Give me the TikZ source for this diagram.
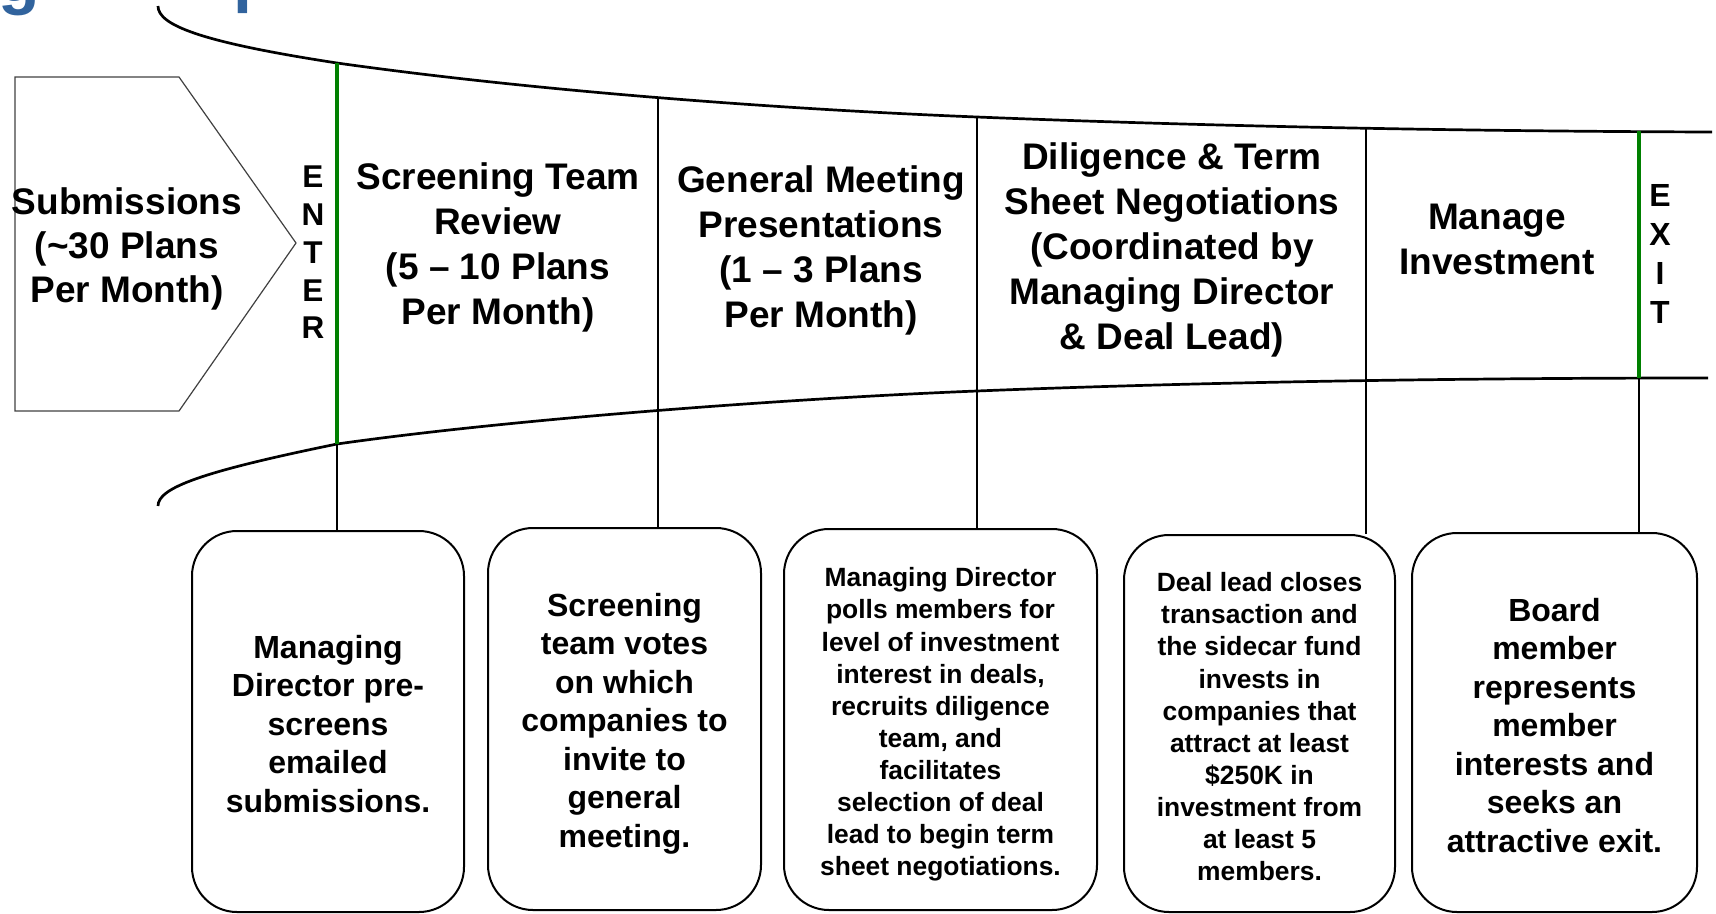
\documentclass[tikz,border=0pt]{standalone}
\usepackage{fontspec}
\setmainfont{Liberation Sans}
\usetikzlibrary{calc}
\definecolor{gategreen}{RGB}{0,128,0}
\definecolor{titleblue}{RGB}{49,99,157}
\tikzset{
  tunnel/.style={line width=2.7pt},
  gate/.style={draw=gategreen, line width=4.5pt},
  drop/.style={line width=2pt},
  notebox/.style={draw, line width=2pt, rounded corners=45pt, inner sep=0pt},
  notebig/.style={align=center, inner sep=0pt, font=\fontsize{32}{38.5}\selectfont\bfseries},
  notesmall/.style={notebig, font=\fontsize{26.4}{32.1}\selectfont\bfseries},
  stagehead/.style={align=center, inner sep=0pt, font=\fontsize{37}{45}\selectfont\bfseries},
  gateword/.style={align=center, inner sep=0pt, font=\fontsize{32}{39}\selectfont\bfseries},
  cuttitle/.style={anchor=base west, inner sep=0pt, text=titleblue, font=\fontsize{68}{68}\selectfont\bfseries}
}

\begin{document}
\begin{tikzpicture}[x=1pt,y=-1pt]
    \useasboundingbox (0,0) rectangle (1716,913);

    % title, cut off by the top edge
    \node[cuttitle] (ttl1) at (-2,1) {g};
    \node[cuttitle] (ttl2) at (233,-1) {p};

    % points on the tunnel
    \coordinate (entT) at (337,63);
    \coordinate (top2) at (658,98.5);
    \coordinate (top3) at (977,117);
    \coordinate (top4) at (1366,128.3);
    \coordinate (exT) at (1639,131);
    \coordinate (entB) at (337,444);
    \coordinate (bot3) at (977,391);
    \coordinate (exB) at (1639,378.3);

    \draw[tunnel] (158,6) .. controls (158,25) and (200,42) .. (entT)
      .. controls (550,93) and (800,110) .. (top3)
      .. controls (1150,124) and (1400,131) .. (1712,132);
    \draw[tunnel] (158,506) .. controls (158,488) and (200,472) .. (entB)
      .. controls (520,418) and (800,398) .. (bot3)
      .. controls (1150,384) and (1400,378) .. (1708,378);

    % submissions arrow
    \draw[line width=1.2pt, black!75] (15,77) -- (179,77) -- (296,243) -- (179,411) -- (15,411) -- cycle;
    \node[stagehead, font=\fontsize{37}{44}\selectfont\bfseries] (sub) at (127,249) {Submissions\\(\textasciitilde30 Plans\\Per Month)};

    % stages
    \node[gateword, font=\fontsize{31.5}{37.7}\selectfont\bfseries] (ent) at (313,252.5) {E\\N\\T\\E\\R};
    \node[stagehead] (h1) at (498,247) {Screening Team\\Review\\(5 – 10 Plans\\Per Month)};
    \node[stagehead] (h2) at (821,250) {General Meeting\\Presentations\\(1 – 3 Plans\\Per Month)};
    \node[stagehead] (h3) at (1172,249.6) {Diligence \& Term\\Sheet Negotiations\\(Coordinated by\\Managing Director\\\& Deal Lead)};
    \node[stagehead] (h4) at (1497,239.5) {Manage\\Investment};
    \node[gateword] (ex) at (1660,253.5) {E\\X\\I\\T};

    % notes below
    \node[notebox, minimum width=272pt, minimum height=381pt] (b1) at (328,721.5) {};
    \node[notebox, minimum width=273pt, minimum height=382pt] (b2) at (624.5,719) {};
    \node[notebox, minimum width=313pt, minimum height=381pt] (b3) at (940.5,719.5) {};
    \node[notebox, minimum width=271pt, minimum height=377pt] (b4) at (1259.5,723.5) {};
    \node[notebox, minimum width=285pt, minimum height=379pt] (b5) at (1554.5,722.5) {};

    \node[notebig] (n1) at ([yshift=-2.2pt]b1.center)
      {Managing\\Director pre-\\screens\\emailed\\submissions.};
    \node[notebig] (n2) at ([yshift=-4.4pt]b2.center)
      {Screening\\team votes\\on which\\companies to\\invite to\\general\\meeting.};
    \node[notesmall] (n3) at ([yshift=-5pt]b3.center)
      {Managing Director\\polls members for\\level of investment\\interest in deals,\\recruits diligence\\team, and\\facilitates\\selection of deal\\lead to begin term\\sheet negotiations.};
    \node[notesmall] (n4) at ([yshift=-3.3pt]b4.center)
      {Deal lead closes\\transaction and\\the sidecar fund\\invests in\\companies that\\attract at least\\\$250K in\\investment from\\at least 5\\members.};
    \node[notebig] (n5) at ([yshift=-2.7pt]b5.center)
      {Board\\member\\represents\\member\\interests and\\seeks an\\attractive exit.};

    \draw[gate] (entT) -- (entB);
    \draw[gate] (exT) -- (exB);
    \draw[drop] (entB) -- (entB |- b1.north);
    \draw[drop] (top2) -- (top2 |- b2.north);
    \draw[drop] (top3) -- (top3 |- b3.north);
    \draw[drop] (top4) -- (top4 |- b4.north);
    \draw[drop] (exB) -- (exB |- b5.north);
\end{tikzpicture}
\end{document}
